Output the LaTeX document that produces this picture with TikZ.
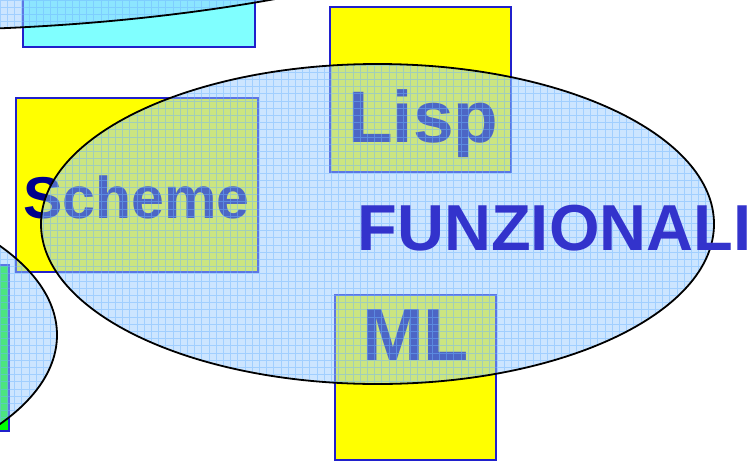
\documentclass[tikz,border=0pt]{standalone}
\usepackage{fontspec}
\setmainfont{Liberation Sans}
\usetikzlibrary{calc}
\definecolor{bordo}{RGB}{32,32,204}
\definecolor{celeste}{RGB}{153,204,255}
\definecolor{reticolo}{RGB}{110,180,255}
\definecolor{ciano}{RGB}{128,255,255}
\definecolor{giallo}{RGB}{255,255,0}
\definecolor{verde}{RGB}{0,255,0}
\definecolor{notte}{RGB}{0,0,140}
\definecolor{titolo}{RGB}{51,51,204}

\begin{document}
\begin{tikzpicture}[x=1pt,y=-1pt,
	scatola/.style={draw=bordo,line width=1.2pt},
	velo/.style={fill=celeste,fill opacity=0.5},
	griglia/.style={draw=reticolo,line width=0.6pt,opacity=0.45},
	bordoell/.style={draw=black,line width=1.8pt},
	lingua/.style={anchor=base west,inner sep=0pt,text=notte,font=\bfseries}]
				% Cadre
				\useasboundingbox (0,0) rectangle (751,461);
				\clip (0,0) rectangle (751,461);
				% Rectangles
				\draw [scatola,fill=ciano] (23,-20) rectangle (255,47);
				\draw [scatola,fill=verde] (-20,265) rectangle (9,431);
				\draw [scatola,fill=giallo] (330,7) rectangle (511,172);
				\draw [scatola,fill=giallo] (16,98) rectangle (258,272);
				\draw [scatola,fill=giallo] (335,295) rectangle (496,460);
				\node (lisp) [lingua,font=\bfseries\fontsize{73}{73}\selectfont] at (348,142) {Lisp};
				\node (scheme) [lingua,font=\bfseries\fontsize{59}{59}\selectfont] at (23,218) {Scheme};
				\node (ml) [lingua,font=\bfseries\fontsize{74}{74}\selectfont] at (362,360) {ML};
				% Ellipses
				\foreach \cx/\cy/\rx/\ry in {-100/-219.6/773/250, 377.5/224/336.5/160, -280/335/337/160}{
					\begin{scope}
						\clip (\cx,\cy) ellipse [x radius=\rx, y radius=\ry];
						\fill [velo] (0,0) rectangle (751,461);
						\draw [griglia] (0,0) grid[step=7.2pt] (751,461);
					\end{scope}
					\draw [bordoell] (\cx,\cy) ellipse [x radius=\rx, y radius=\ry];
				}
				\node (funz) [lingua,text=titolo,font=\bfseries\fontsize{65}{65}\selectfont] at (357.5,250) {FUNZIONALI};
\end{tikzpicture}
\end{document}
